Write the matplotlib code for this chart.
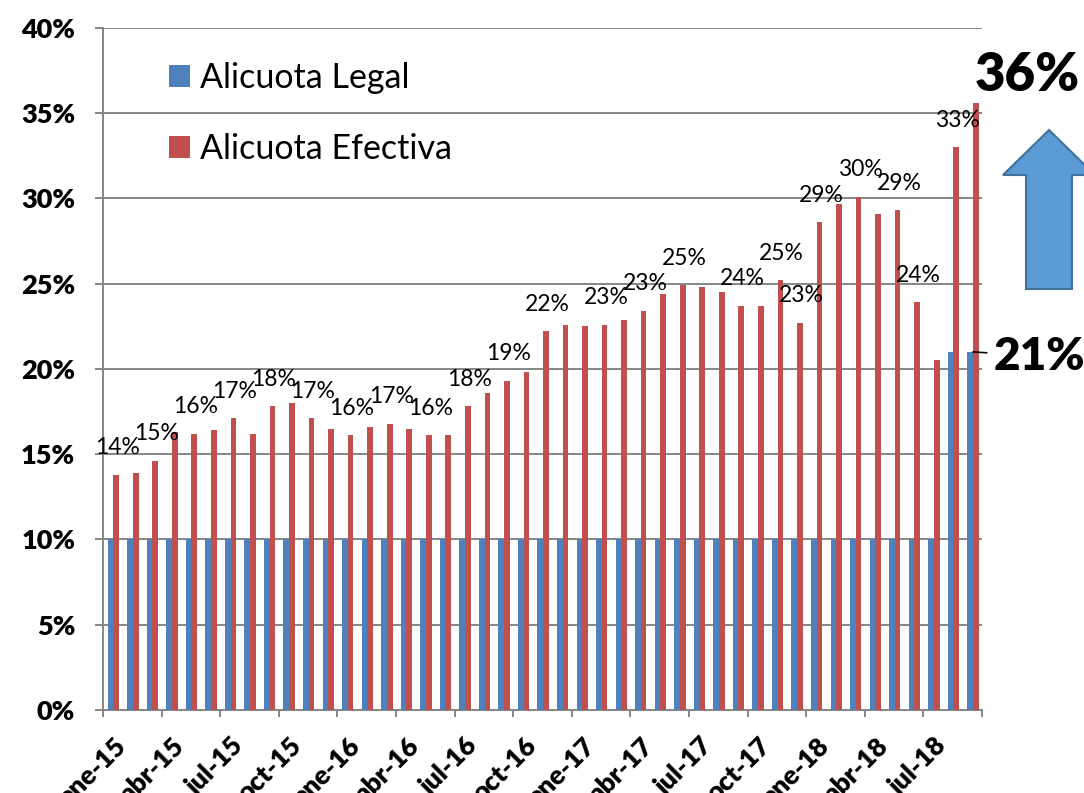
import matplotlib
matplotlib.use('Agg')
import matplotlib.pyplot as plt
import matplotlib.transforms as mtransforms
from matplotlib.patches import Polygon
import numpy as np

plt.rcParams['font.family'] = ['Lato', 'DejaVu Sans']

# ---------------------------------------------------------
# Data: monthly values, ene-15 .. sep-18 (percent)
# ---------------------------------------------------------
legal = [10, 10, 10, 10, 10, 10, 10, 10, 10, 10,
         10, 10, 10, 10, 10, 10, 10, 10, 10, 10,
         10, 10, 10, 10, 10, 10, 10, 10, 10, 10,
         10, 10, 10, 10, 10, 10, 10, 10, 10, 10,
         10, 10, 10, 21, 21]
efectiva = [13.8, 13.9, 14.6, 16.3, 16.2, 16.4, 17.1, 16.2, 17.8, 18.0,
            17.1, 16.5, 16.1, 16.6, 16.8, 16.5, 16.1, 16.1, 17.8, 18.6,
            19.3, 19.8, 22.2, 22.6, 22.5, 22.6, 22.9, 23.4, 24.4, 24.9,
            24.8, 24.5, 23.7, 23.7, 25.2, 22.7, 28.6, 29.7, 30.1, 29.1,
            29.3, 23.9, 20.5, 33.0, 35.6]
# bars that carry a small data label
labeled = [0, 2, 4, 6, 8, 10, 12, 14, 16, 18, 20, 22, 25, 27, 29,
           32, 34, 35, 36, 38, 40, 41, 43]
tick_labels = ['ene-15', 'abr-15', 'jul-15', 'oct-15',
               'ene-16', 'abr-16', 'jul-16', 'oct-16',
               'ene-17', 'abr-17', 'jul-17', 'oct-17',
               'ene-18', 'abr-18', 'jul-18']

BLUE = '#4F81BD'
RED = '#C0504D'
GRID = '#868686'

n = len(efectiva)
x = np.arange(n) + 0.53
w = 0.29

fig = plt.figure(figsize=(10.84, 7.93), dpi=100)
ax = fig.add_axes([0.095, 0.1047, 0.811, 0.86])

ax.bar(x - w / 2, legal, width=w, color=BLUE, label='Alicuota Legal', zorder=3)
ax.bar(x + w / 2, efectiva, width=w, color=RED, label='Alicuota Efectiva', zorder=3)

# ---------------------------------------------------------
# Axes styling (Excel look)
# ---------------------------------------------------------
ax.set_xlim(0, n)
ax.set_ylim(0, 40)
ax.set_yticks(np.arange(0, 41, 5))
ax.set_yticklabels(['%d%%' % v for v in range(0, 41, 5)],
                   fontsize=19.5, fontweight='heavy')
ax.yaxis.grid(True, color=GRID, linewidth=1.4, zorder=0)
ax.set_axisbelow(True)
for s in ['top', 'right']:
    ax.spines[s].set_visible(False)
for s in ['left', 'bottom']:
    ax.spines[s].set_color(GRID)
    ax.spines[s].set_linewidth(1.4)
ax.tick_params(axis='y', length=6, color=GRID, width=1.4, pad=14)
ax.tick_params(axis='x', length=5, color=GRID, width=1.4)

# month labels every 3 months, rotated and ending just right of the tick
xt = np.arange(0, n + 1, 3)
ax.set_xticks(xt)
ax.set_xticklabels(tick_labels + [''], rotation=45, rotation_mode='anchor',
                   ha='right', va='center', fontsize=19, fontweight='heavy')
shift = mtransforms.ScaledTranslation(0.19, -0.20, fig.dpi_scale_trans)
for lab in ax.get_xticklabels():
    lab.set_transform(lab.get_transform() + shift)

# ---------------------------------------------------------
# Data labels
# ---------------------------------------------------------
for i in labeled:
    ax.annotate('%d%%' % round(efectiva[i]), (x[i] + w / 2, efectiva[i]),
                xytext=(1, 19.5), textcoords='offset points',
                ha='center', va='center', fontsize=16.5, annotation_clip=False)

ax.annotate('%d%%' % round(efectiva[-1]), (x[-1] + w / 2, efectiva[-1]),
            xytext=(-1, 20), textcoords='offset points',
            ha='left', va='center', fontsize=38, fontweight='heavy',
            annotation_clip=False)
ax.annotate('%d%%' % legal[-1], (x[-1], legal[-1]),
            xytext=(15, -3), textcoords='offset points',
            ha='left', va='center', fontsize=33, fontweight='heavy',
            annotation_clip=False,
            arrowprops=dict(arrowstyle='-', color='black', lw=1.2,
                            shrinkA=3, shrinkB=0))

# big up arrow on the right (pixel coords, origin top-left)
arrow_px = [(1026, 289), (1072, 289), (1072, 175), (1095, 175),
            (1049, 130), (1003, 175), (1026, 175)]
H = 793
arrow_in = [(px / 100, (H - py) / 100) for px, py in arrow_px]
fig.patches.append(Polygon(arrow_in, closed=True, facecolor='#5B9BD5',
                           edgecolor='#41719C', linewidth=1.5,
                           transform=fig.dpi_scale_trans))

ax.legend(loc='upper left', bbox_to_anchor=(0.075, 0.95), frameon=False,
          fontsize=24.5, handlelength=0.62, handleheight=0.62,
          handletextpad=0.3, labelspacing=1.15, borderpad=0, borderaxespad=0)

fig.savefig('out.png', dpi=100)
